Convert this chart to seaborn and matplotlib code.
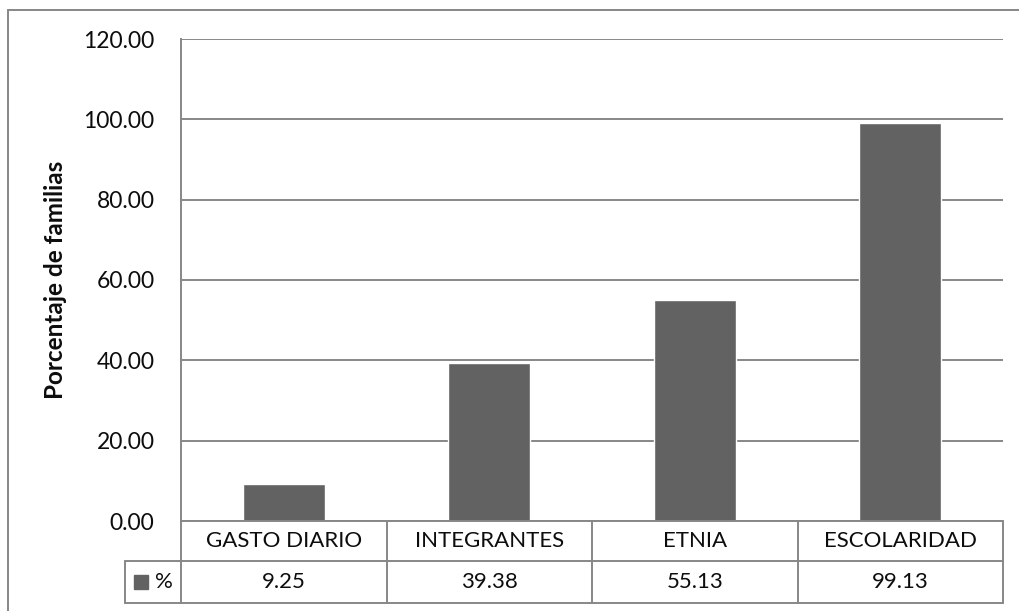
import matplotlib
matplotlib.use("Agg")
import matplotlib.pyplot as plt
from matplotlib.patches import Rectangle
from matplotlib.lines import Line2D
import seaborn as sns
import pandas as pd

categorias = ["GASTO DIARIO", "INTEGRANTES", "ETNIA", "ESCOLARIDAD"]
porcentajes = [9.25, 39.38, 55.13, 99.13]
serie = "%"
y_ticks = [0, 20, 40, 60, 80, 100, 120]

df = pd.DataFrame({"categoria": categorias, "valor": porcentajes})

sns.set_style("white")
plt.rcParams["font.family"] = ["Lato", "DejaVu Sans"]

W, H = 1019, 611
fig = plt.figure(figsize=(W / 100, H / 100), dpi=100)

# plot area in pixel coordinates
left, right, top, bottom = 181, 1003, 39, 521
ax = fig.add_axes([left / W, (H - bottom) / H, (right - left) / W, (bottom - top) / H])

bar_color = "#626262"
grid_color = "#878787"
text_color = "#0d0d0d"
sns.barplot(data=df, x="categoria", y="valor", color=bar_color, width=0.4,
            saturation=1, ax=ax, zorder=3)

ax.set_xlim(-0.5, len(categorias) - 0.5)
ax.set_ylim(0, 120)
ax.set_yticks(y_ticks)
ax.set_yticklabels([f"{v:.2f}" for v in y_ticks], fontsize=16.5, color=text_color)
ax.tick_params(axis="y", length=0, pad=19)
ax.set_xticks([])
ax.set_xlabel("")
ax.set_ylabel("Porcentaje de familias", fontsize=17.5, fontweight="bold",
              color=text_color, labelpad=12)
ax.yaxis.grid(True, color=grid_color, linewidth=1.4, zorder=0)
for s in ["top", "right", "bottom"]:
    ax.spines[s].set_visible(False)
ax.spines["left"].set_color(grid_color)
ax.spines["left"].set_linewidth(1.4)

# data table under the plot area
ph = bottom - top
row1 = -(561 - bottom) / ph
row2 = -(603 - bottom) / ph
tr = ax.get_xaxis_transform()
n = len(categorias)
lw = 1.4
# horizontal lines
for y in [0, row1]:
    ax.add_line(Line2D([-0.5, n - 0.5], [y, y], transform=tr, color=grid_color,
                       lw=lw, clip_on=False, zorder=4))
ax.add_line(Line2D([-0.5, n - 0.5], [row2, row2], transform=tr, color=grid_color,
                   lw=lw, clip_on=False))
# vertical separators
for i in range(n + 1):
    x = i - 0.5
    ax.add_line(Line2D([x, x], [0, row2], transform=tr, color=grid_color,
                       lw=lw, clip_on=False))
# legend cell on the left of the values row
cell_left = -0.5 - (left - 125) / ((right - left) / n)
ax.add_line(Line2D([cell_left, -0.5], [row1, row1], transform=tr, color=grid_color,
                   lw=lw, clip_on=False))
ax.add_line(Line2D([cell_left, -0.5], [row2, row2], transform=tr, color=grid_color,
                   lw=lw, clip_on=False))
ax.add_line(Line2D([cell_left, cell_left], [row1, row2], transform=tr, color=grid_color,
                   lw=lw, clip_on=False))
ax.plot([-0.5 - 40 / 205.5], [(row1 + row2) / 2], marker="s", markersize=9.5,
        color=bar_color, transform=tr, clip_on=False)
ax.text(-0.5 - 17 / 205.5, (row1 + row2) / 2, serie, transform=tr, ha="center",
        va="center", fontsize=16, color=text_color)

for i, (c, v) in enumerate(zip(categorias, porcentajes)):
    ax.text(i, row1 / 2, c, transform=tr, ha="center", va="center",
            fontsize=16, color=text_color)
    ax.text(i, (row1 + row2) / 2, f"{v:.2f}", transform=tr, ha="center",
            va="center", fontsize=16, color=text_color)

# chart frame
fig.add_artist(Rectangle((8 / W, -0.1), 1.2, (H - 10) / H + 0.1,
                         transform=fig.transFigure, fill=False,
                         edgecolor=grid_color, linewidth=1.4))

fig.savefig("out.png", dpi=100)
